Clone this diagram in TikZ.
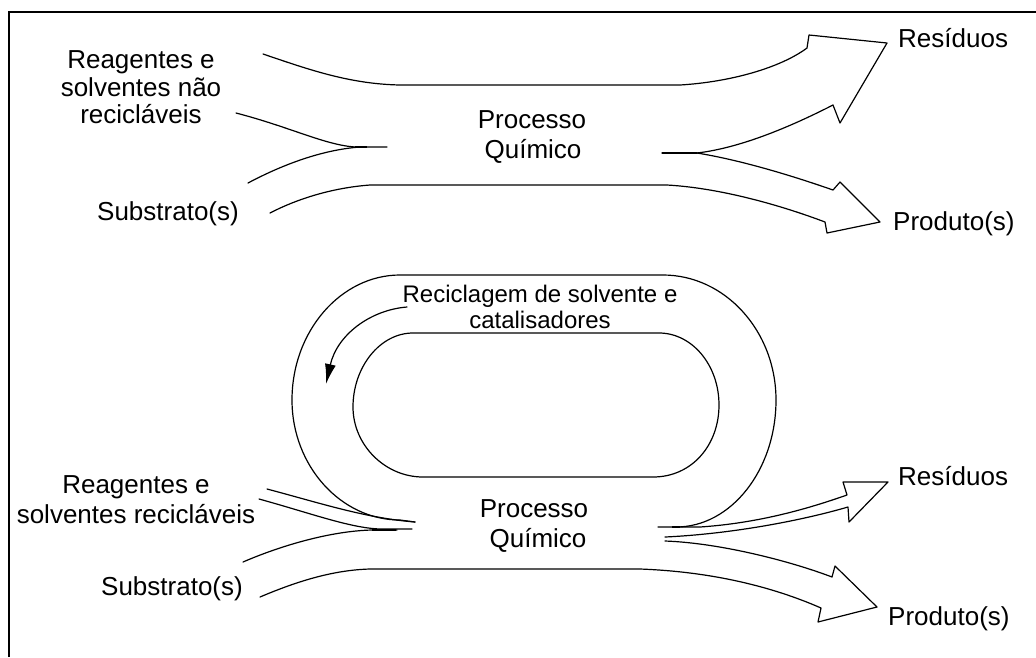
\documentclass[tikz,border=0pt]{standalone}
\usepackage{fontspec}
\setmainfont{Liberation Sans}
\usetikzlibrary{arrows.meta}
\begin{document}
\begin{tikzpicture}[x=1pt,y=-1pt,
  flow/.style={line width=1.2pt, line join=round, line cap=round},
  lbl/.style={font=\fontsize{26}{28}\selectfont, inner sep=0pt, anchor=base},
  lblw/.style={lbl, anchor=base west},
  lbls/.style={font=\fontsize{24}{26}\selectfont, inner sep=0pt, anchor=base}]
\useasboundingbox (0,0) rectangle (1036,657);
\fill[white] (0,0) rectangle (1036,657);
\draw[line width=2pt] (9,657) -- (9,12) -- (1036,12);

% ---------- top section ----------
\node[lbl] (ra1) at (141,68) {Reagentes e};
\node[lbl] (ra2) at (141,96) {solventes não};
\node[lbl] (ra3) at (141,123) {recicláveis};
\node[lbl] (sa) at (168,220) {Substrato(s)};
\node[lbl] (pa1) at (532,128) {Processo};
\node[lbl] (pa2) at (533,158) {Químico};
\node[lblw] (resa) at (898,47) {Resíduos};
\node[lblw] (proda) at (893,230) {Produto(s)};

% upper boundary + Residuos arrow
\draw[flow] (263,54) .. controls (310,70) and (350,84) .. (400,85) -- (680,85)
  .. controls (730,82) and (780,68) .. (807,48) -- (809,35) -- (887,43)
  -- (840,123) -- (833,105) .. controls (790,127) and (740,148) .. (697,153);
% middle split
\draw[flow] (662,153) -- (697,153);
\draw[line width=2.6pt] (673,153) -- (695,153);
% lower branch + Produto arrow + lower boundary
\draw[flow] (697,153) .. controls (740,160) and (790,175) .. (833,190)
  -- (840,182) -- (880,222) -- (827,233) -- (825,222)
  .. controls (780,205) and (720,188) .. (667,185) -- (370,185)
  .. controls (330,188) and (295,200) .. (270,213);
% converging inputs
\draw[flow] (236,113) .. controls (290,127) and (325,145) .. (355,147) -- (387,147);
\draw[flow] (248,183) .. controls (280,166) and (320,150) .. (360,147);
\draw[line width=2.6pt] (355,147) -- (367,147);

% ---------- bottom section ----------
\node[lbls] (rc1) at (540,302) {Reciclagem de solvente e};
\node[lbls] (rc2) at (540,328) {catalisadores};
\node[lbl] (rb1) at (136,493) {Reagentes e};
\node[lbl] (rb2) at (136,523) {solventes recicláveis};
\node[lbl] (sb) at (172,595) {Substrato(s)};
\node[lbl] (pb1) at (534,517) {Processo};
\node[lbl] (pb2) at (538,547) {Químico};
\node[lblw] (resb) at (898,485) {Resíduos};
\node[lblw] (prodb) at (888,625) {Produto(s)};

% outer recycling loop
\draw[flow] (415,522) -- (400,520) .. controls (341,520) and (292,466) .. (292,400)
  .. controls (292,331) and (341,275) .. (400,275) -- (663,275)
  .. controls (725,275) and (776,331) .. (776,400)
  .. controls (776,470) and (731,527) .. (676,527);
% inner loop
\draw[flow] (413,333) -- (659,333) .. controls (692,333) and (719,365) .. (719,405)
  .. controls (719,445) and (692,477) .. (653,477) -- (423,477)
  .. controls (385,477) and (353,445) .. (353,407)
  .. controls (353,367) and (380,333) .. (413,333) -- cycle;
% recycling arrow
\draw[flow, -{Latex[length=20pt,width=11pt]}] (407,307) .. controls (370,310) and (337,335) .. (326,384);

% converging inputs
\draw[flow] (267,489) .. controls (320,503) and (365,518) .. (415,522);
\draw[flow] (259,499) .. controls (310,513) and (350,528) .. (380,529) -- (412,529);
\draw[flow] (243,562) .. controls (280,546) and (330,531) .. (372,530) -- (397,530);
\draw[line width=2.6pt] (372,530) -- (396,530);

% upper right Residuos arrow
\draw[flow] (658,527) -- (700,527) .. controls (760,523) and (810,508) .. (847,495)
  -- (843,482) -- (888,482) -- (849,522) -- (848,507)
  .. controls (800,521) and (730,534) .. (665,537);
\draw[line width=2.6pt] (672,527) -- (680,527);
% Produto arrow + lower boundary
\draw[flow] (260,597) .. controls (300,580) and (335,570) .. (370,569) -- (640,569)
  .. controls (720,572) and (780,590) .. (821,608) -- (818,622) -- (877,607)
  -- (835,566) -- (832,577) .. controls (790,561) and (720,543) .. (665,541);
\end{tikzpicture}
\end{document}
